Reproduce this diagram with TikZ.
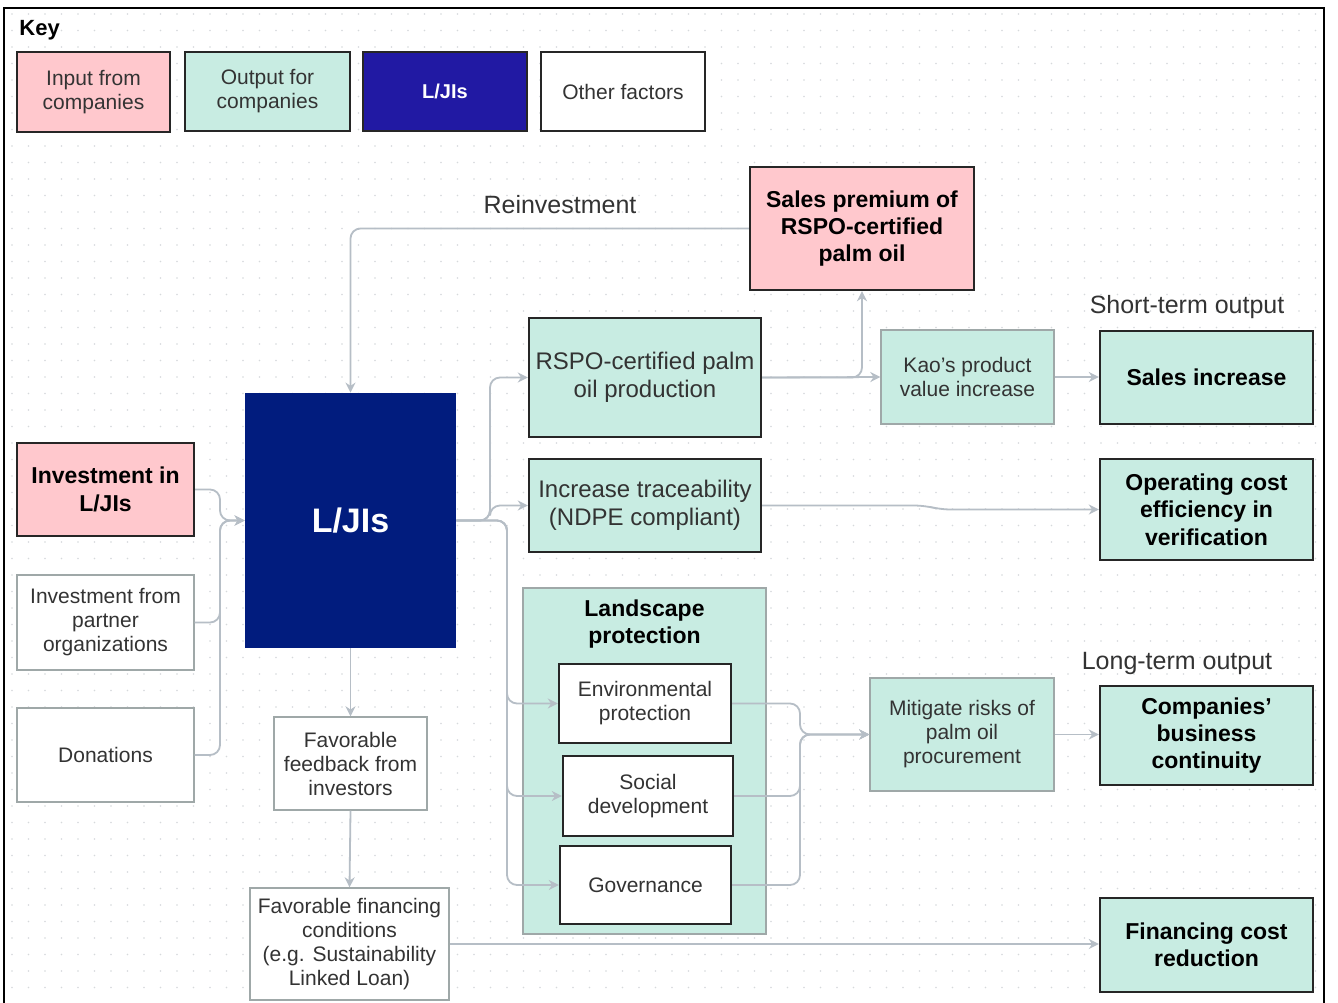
\documentclass[tikz,border=0pt]{standalone}
\usepackage{fontspec}
\setmainfont{Liberation Sans}
\usetikzlibrary{arrows.meta}
\definecolor{pinkc}{HTML}{FFC8CD}
\definecolor{mintc}{HTML}{C8ECE2}
\definecolor{navyc}{HTML}{011C7E}
\definecolor{keynavy}{HTML}{2119A3}
\definecolor{linec}{HTML}{B6BEC6}
\definecolor{thing}{HTML}{9FA8A8}
\definecolor{txtc}{HTML}{333333}
\definecolor{dotc}{HTML}{D6D9DC}
\newcommand\mybox[7]{%
  \pgfmathsetmacro\mcx{(#2+#4)/2}\pgfmathsetmacro\mcy{(#3+#5)/2}%
  \pgfmathsetmacro\mww{(#4-#2)*0.5}\pgfmathsetmacro\mhh{(#5-#3)*0.5}%
  \node[#6, minimum width=\mww pt, minimum height=\mhh pt] (#1) at (\mcx,\mcy) {#7};}
\tikzset{
  base/.style={align=center, inner sep=0pt, text=txtc, font=\fontsize{10.5}{12}\selectfont},
  pinkb/.style={base, draw=black!85, line width=1.2pt, fill=pinkc},
  mintk/.style={base, draw=black!85, line width=1.2pt, fill=mintc},
  mintt/.style={base, draw=thing, line width=0.7pt, fill=mintc},
  whitet/.style={base, draw=thing, line width=0.7pt, fill=white},
  whitek/.style={base, draw=black!85, line width=1.2pt, fill=white},
  bigtxt/.style={font=\fontsize{12}{14}\selectfont},
  boldtxt/.style={text=black, font=\bfseries\fontsize{11.5}{13.7}\selectfont},
  conn/.style={draw=linec, line width=0.9pt, rounded corners=5pt, -{Stealth[length=5pt,width=5pt]}},
  lbl/.style={text=txtc, font=\fontsize{12.5}{14}\selectfont, inner sep=0pt}
}
\begin{document}
\begin{tikzpicture}[x=0.5pt,y=-0.5pt]
\useasboundingbox (0,0) rectangle (1338,1002);
\fill[white] (0,0) rectangle (1338,1002);
% dot grid
\foreach \i in {0,...,79} {\foreach \j in {0,...,60} {\fill[dotc] (12+16.5*\i,14+16.5*\j) circle[radius=0.45pt];}}
% frame
\draw[black, line width=1.1pt] (4,1004) -- (4,8) -- (1324,8) -- (1324,1004);

% key
\node[anchor=west, inner sep=0pt, font=\bfseries\fontsize{11}{13}\selectfont] (key) at (19,30) {Key};
\mybox{k1}{17}{52}{170}{132}{pinkb, line width=1pt}{Input from\\companies}
\mybox{k2}{185}{52}{350}{131}{mintk, line width=1pt}{Output for\\companies}
\mybox{k3}{363}{52}{527}{131}{base, draw=black!85, line width=1pt, fill=keynavy, text=white, font=\bfseries\fontsize{10}{12}\selectfont}{L/JIs}
\mybox{k4}{541}{52}{705}{131}{whitek, line width=1pt}{Other factors}

% labels
\node[lbl] (reinv) at (560,205) {Reinvestment};
\node[lbl] (stlab) at (1187,307) {Short-term output};
\node[lbl] (ltlab) at (1177,663) {Long-term output};

% nodes
\mybox{prem}{750}{167}{974}{290}{pinkb, boldtxt}{Sales premium of\\RSPO-certified\\palm oil}
\mybox{rspo}{529}{318}{761}{437}{mintk, bigtxt}{RSPO-certified palm\\oil production}
\mybox{kao}{881}{330}{1054}{424}{mintt}{Kao's product\\value increase}
\mybox{sales}{1100}{331}{1313}{424}{mintk, boldtxt}{Sales increase}
\mybox{inv}{17}{443}{194}{536}{pinkb, boldtxt}{Investment in\\L/JIs}
\mybox{lj}{245}{393}{456}{648}{base, fill=navyc, text=white, font=\bfseries\fontsize{17}{20}\selectfont}{L/JIs}
\mybox{trace}{529}{459}{761}{552}{mintk, bigtxt}{Increase traceability\\(NDPE compliant)}
\mybox{opc}{1100}{459}{1313}{560}{mintk, boldtxt}{Operating cost\\efficiency in\\verification}
\mybox{part}{17}{575}{194}{670}{whitet}{Investment from\\partner\\organizations}
\mybox{land}{523}{588}{766}{934}{mintt}{}
\node[anchor=north, align=center, inner sep=0pt, text=black, font=\bfseries\fontsize{11.5}{13.5}\selectfont] (landt) at (644.5,599) {Landscape\\protection};
\mybox{env}{559}{664}{731}{743}{whitek}{Environmental\\protection}
\mybox{soc}{563}{756}{733}{836}{whitek}{Social\\development}
\mybox{gov}{560}{846}{731}{924}{whitek}{Governance}
\mybox{mit}{870}{678}{1054}{791}{mintt}{Mitigate risks of\\palm oil\\procurement}
\mybox{comp}{1100}{686}{1313}{785}{mintk, boldtxt}{Companies'\\business\\continuity}
\mybox{don}{17}{708}{194}{802}{whitet}{Donations}
\mybox{fb}{274}{717}{427}{810}{whitet}{Favorable\\feedback from\\investors}
\mybox{fin}{250}{888}{449}{1000}{whitet}{Favorable financing\\conditions\\(e.g. Sustainability\\Linked Loan)}
\mybox{fcr}{1100}{898}{1313}{992}{mintk, boldtxt}{Financing cost\\reduction}

% connectors
\draw[conn] (prem.west) -| (lj.north);
\draw[conn] (rspo.east) -- (kao.west);
\draw[conn] (rspo.east) -| (prem.south);
\draw[conn] (kao.east) -- (sales.west |- kao.east);
\draw[conn] (trace.east) -- (925,505.5) -- (940,509.5) -- (opc.west);
\draw[conn] (lj.east) -- (490,520.5) |- (rspo.west);
\draw[conn] (lj.east) -- (490,520.5) |- (trace.west);
\draw[conn] (lj.east) -- (507,520.5) |- (env.west);
\draw[conn] (lj.east) -- (507,520.5) |- (soc.west);
\draw[conn] (lj.east) -- (507,520.5) |- (gov.west);
\draw[conn] (inv.east) -- (220,489.5) |- (lj.west);
\draw[conn] (part.east) -- (220,622.5) |- (lj.west);
\draw[conn] (don.east) -- (220,755) |- (lj.west);
\draw[conn] (env.east) -- (800,703.5) |- (mit.west);
\draw[conn] (soc.east) -- (800,796) |- (mit.west);
\draw[conn] (gov.east) -- (800,885) |- (mit.west);
\draw[conn] (mit.east) -- (comp.west |- mit.east);
\draw[conn] (lj.south) -- (fb.north);
\draw[conn] (fb.south) -- (fin.north);
\draw[conn] (fin.east) -- (fcr.west |- fin.east);
\end{tikzpicture}
\end{document}
